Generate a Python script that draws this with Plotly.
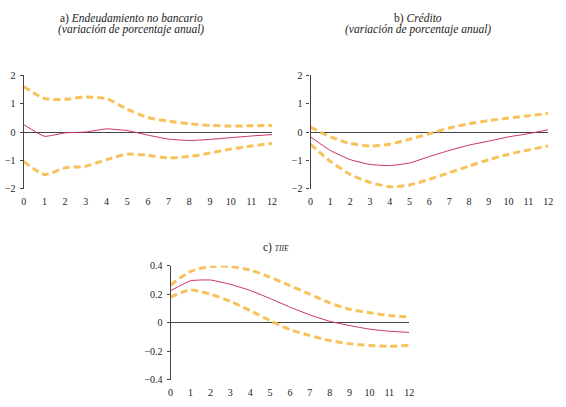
import plotly.graph_objects as go

# horizons (quarters)
horizon = list(range(13))

# a) Endeudamiento no bancario
a_upper = [1.6, 1.18, 1.15, 1.23, 1.17, 0.8, 0.51, 0.38, 0.29, 0.23, 0.21, 0.22, 0.23]
a_mid = [0.26, -0.15, -0.03, 0.0, 0.11, 0.05, -0.11, -0.25, -0.3, -0.26, -0.2, -0.14, -0.09]
a_lower = [-1.03, -1.49, -1.26, -1.2, -0.97, -0.78, -0.82, -0.91, -0.86, -0.74, -0.6, -0.49, -0.4]

# b) Crédito
b_upper = [0.17, -0.17, -0.4, -0.49, -0.43, -0.25, -0.06, 0.14, 0.29, 0.4, 0.49, 0.57, 0.65]
b_mid = [-0.17, -0.65, -0.97, -1.14, -1.18, -1.09, -0.86, -0.65, -0.46, -0.32, -0.17, -0.06, 0.08]
b_lower = [-0.43, -1.03, -1.49, -1.77, -1.92, -1.86, -1.66, -1.43, -1.2, -0.97, -0.78, -0.63, -0.49]

# c) TIIE
c_upper = [0.265, 0.36, 0.395, 0.395, 0.37, 0.32, 0.26, 0.2, 0.14, 0.095, 0.07, 0.05, 0.04]
c_mid = [0.225, 0.295, 0.3, 0.27, 0.227, 0.17, 0.11, 0.055, 0.01, -0.02, -0.045, -0.06, -0.068]
c_lower = [0.18, 0.23, 0.2, 0.15, 0.085, 0.015, -0.048, -0.09, -0.125, -0.147, -0.16, -0.165, -0.16]

band_color = "#F8C25A"
line_color = "#C8325F"
axis_color = "#444444"
font = dict(family="Liberation Serif, DejaVu Serif, serif", size=10, color="#222222")

fig = go.Figure()

panels = [
    ("x", "y", a_upper, a_mid, a_lower),
    ("x2", "y2", b_upper, b_mid, b_lower),
    ("x3", "y3", c_upper, c_mid, c_lower),
]
for xa, ya, up, mid, low in panels:
    for band in (up, low):
        fig.add_trace(go.Scatter(x=horizon, y=band, xaxis=xa, yaxis=ya, mode="lines",
                                 line=dict(color=band_color, width=3, dash="7px,4px",
                                           shape="spline", smoothing=0.7),
                                 showlegend=False, hoverinfo="skip"))
    fig.add_trace(go.Scatter(x=horizon, y=mid, xaxis=xa, yaxis=ya, mode="lines",
                             line=dict(color=line_color, width=1, shape="spline", smoothing=0.4),
                             showlegend=False))

xcommon = dict(range=[0, 12], tickvals=horizon, showgrid=False, zeroline=False,
               showline=False, ticks="", ticklabelstandoff=5, tickfont=font, fixedrange=True)
ycommon = dict(showgrid=False, zeroline=True, zerolinecolor=axis_color, zerolinewidth=1,
               showline=True, linecolor=axis_color, linewidth=1.2, tickfont=font,
               ticks="outside", ticklen=3, tickcolor=axis_color, ticklabelstandoff=2)

fig.update_layout(
    width=566, height=407,
    margin=dict(l=0, r=0, t=0, b=0),
    paper_bgcolor="white", plot_bgcolor="white",
    font=font,
    xaxis=dict(domain=[0.0371, 0.4823], anchor="y", **xcommon),
    yaxis=dict(domain=[0.538, 0.8256], anchor="x", range=[-2, 2], tickvals=[-2, -1, 0, 1, 2],
               ticktext=["\u22122", "\u22121", "0", "1", "2"], **ycommon),
    xaxis2=dict(domain=[0.5512, 0.977], anchor="y2", **xcommon),
    yaxis2=dict(domain=[0.538, 0.8256], anchor="x2", range=[-2, 2], tickvals=[-2, -1, 0, 1, 2],
                ticktext=["\u22122", "\u22121", "0", "1", "2"], **ycommon),
    xaxis3=dict(domain=[0.3004, 0.7279], anchor="y3", **xcommon),
    yaxis3=dict(domain=[0.0565, 0.344], anchor="x3", range=[-0.4, 0.4],
                tickvals=[-0.4, -0.2, 0, 0.2, 0.4],
                ticktext=["\u22120.4", "\u22120.2", "0", "0.2", "0.4"], **ycommon),
)

titles = [
    (130, 13, "a) <i>Endeudamiento no bancario</i>"),
    (130, 24, "<i>(variación de porcentaje anual)</i>"),
    (421, 13, "b) <i>Crédito</i>"),
    (421, 24, "<i>(variación de porcentaje anual)</i>"),
    (277, 248, "c) <i><span style='font-size:7.5px'>TIIE</span></i>"),
]
for px, py, txt in titles:
    fig.add_annotation(x=px / 566, y=1 - py / 407, xref="paper", yref="paper", text=txt,
                       showarrow=False, font=dict(family=font["family"], size=11.5, color="#222222"),
                       xanchor="center", yanchor="middle")

# page body has a default margin; remove it so the figure sits at the window corner
fig.write_html("out.html", config={"displayModeBar": False},
               post_script="document.body.style.margin='0';")
